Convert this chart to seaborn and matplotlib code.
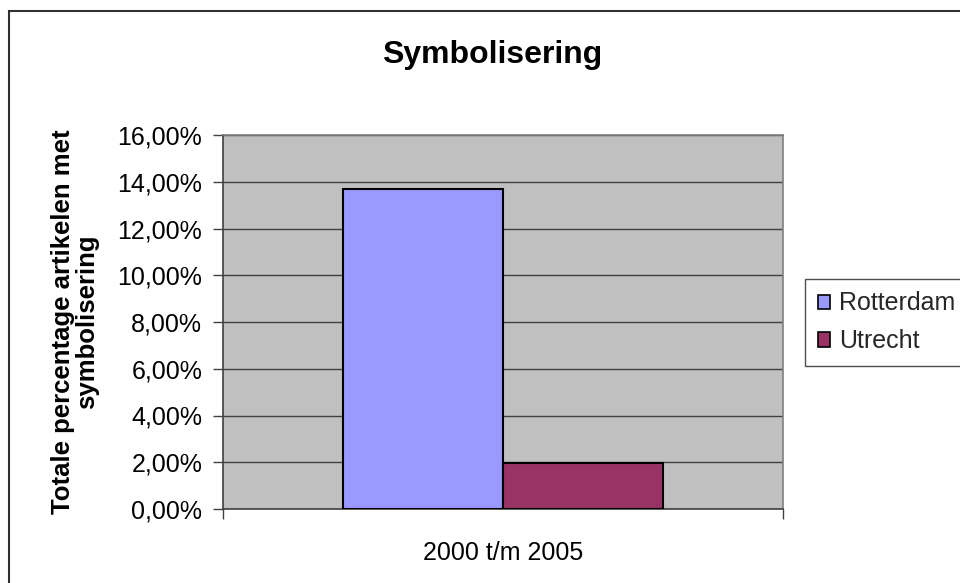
import matplotlib
matplotlib.use("Agg")
import matplotlib.pyplot as plt
import seaborn as sns
import pandas as pd
from matplotlib.patches import Rectangle
from matplotlib.ticker import FuncFormatter, FixedLocator

categories = ["2000 t/m 2005"]
cities = ["Rotterdam", "Utrecht"]
values = [0.1369, 0.0198]
colors = ["#9999FF", "#993366"]
yticks = [0.0, 0.02, 0.04, 0.06, 0.08, 0.10, 0.12, 0.14, 0.16]

df = pd.DataFrame({"periode": categories * len(cities), "stad": cities, "waarde": values})

sns.set_theme(style="white")
plt.rcParams["font.family"] = ["Liberation Sans", "DejaVu Sans"]

fig = plt.figure(figsize=(9.6, 5.83), dpi=100)
ax = fig.add_axes([223 / 960, 1 - 509 / 583, (783 - 223) / 960, (509 - 135) / 583])
ax.set_facecolor("#C0C0C0")

sns.barplot(data=df, x="periode", y="waarde", hue="stad", palette=colors,
            width=0.5714, ax=ax, edgecolor="black", linewidth=1.5, legend=False,
            saturation=1, zorder=3)

ax.set_xlim(-0.5, 0.5)
ax.set_ylim(0, 0.16)
ax.yaxis.set_major_locator(FixedLocator(yticks))
ax.yaxis.set_major_formatter(FuncFormatter(lambda v, p: f"{v*100:.2f}%".replace(".", ",")))
ax.grid(axis="y", color="#404040", linewidth=1.0, zorder=0)
ax.set_axisbelow(True)

for s in ["top", "right"]:
    ax.spines[s].set_color("#808080")
    ax.spines[s].set_linewidth(1.2)
for s in ["left", "bottom"]:
    ax.spines[s].set_color("#404040")
    ax.spines[s].set_linewidth(1.2)

ax.tick_params(axis="y", which="major", left=True, length=7, width=1.0, color="#404040",
               labelsize=18, pad=8, labelcolor="black")
ax.tick_params(axis="x", which="major", bottom=False, labelsize=18, pad=17, labelcolor="black")
ax.set_xticks([-0.5, 0.5], minor=True)
ax.tick_params(axis="x", which="minor", bottom=True, length=7, width=1.0, color="#404040")

ax.set_xlabel("")
ax.set_ylabel("Totale percentage artikelen met\nsymbolisering", fontsize=18.5, fontweight="bold",
              color="black", linespacing=1.05, ha="center", va="center")
ax.yaxis.set_label_coords((75 - 223) / 560, 0.5)
fig.text(492 / 960, 1 - 63 / 583, "Symbolisering", ha="center", va="baseline",
         fontsize=23, fontweight="bold", color="black")

handles = [Rectangle((0, 0), 1, 1, facecolor=c, edgecolor="black", linewidth=1.2) for c in colors]
leg = fig.legend(handles, cities, loc="upper left", bbox_to_anchor=(805 / 960, 1 - 279 / 583),
                 fontsize=18, frameon=True, fancybox=False, edgecolor="#202020",
                 handlelength=0.5, handleheight=0.5, handletextpad=0.35, borderpad=0.5,
                 labelspacing=0.55, borderaxespad=0)
leg.get_frame().set_linewidth(1.0)

border = Rectangle((8.5 / 960, -0.2), 2.0, 1 - 11 / 583 + 0.2, transform=fig.transFigure,
                   fill=False, edgecolor="#303030", linewidth=1.5, zorder=10)
fig.patches.append(border)

fig.savefig("out.png", dpi=100)
